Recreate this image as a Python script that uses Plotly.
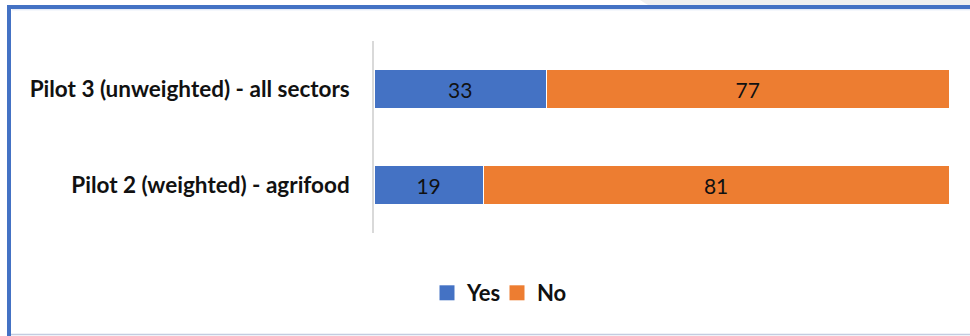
import plotly.graph_objects as go

categories = ["Pilot 2 (weighted) - agrifood", "Pilot 3 (unweighted) - all sectors"]
yes_values = [19, 33]
no_values = [81, 77]
series_names = ["Yes", "No"]
colors = ["#4472C4", "#ED7D31"]

W, H = 970, 336
L, R, T, B = 374, 21, 41, 103
pw, ph = W - L - R, H - T - B
FONT = "Lato, Open Sans, sans-serif"

def px(x):
    return (x - L) / pw

def py(y):
    return (H - B - y) / ph

fig = go.Figure()
for name, vals, col in zip(series_names, [yes_values, no_values], colors):
    fig.add_trace(go.Bar(
        y=categories, x=vals, name=name, orientation="h",
        marker=dict(color=col, line=dict(color="white", width=1)),
        text=[str(v) for v in vals], textposition="inside", insidetextanchor="middle",
        textfont=dict(family=FONT, size=21, color="#111111"),
        showlegend=False, hoverinfo="x+y",
    ))
    fig.add_trace(go.Scatter(
        x=[None], y=[None], mode="markers", name=name,
        marker=dict(symbol="square", size=15, color=col), showlegend=True,
    ))

fig.update_layout(
    width=W, height=H,
    margin=dict(l=L, r=R, t=T, b=B, pad=0),
    barmode="stack", barnorm="percent", bargap=0.6,
    plot_bgcolor="white", paper_bgcolor="white",
    font=dict(family=FONT, color="#000000"),
    uniformtext=dict(minsize=20, mode="show"),
    legend=dict(
        orientation="h", x=px(427), xanchor="left", y=py(293), yanchor="middle",
        font=dict(family=FONT, size=22, color="#111111", weight="bold"),
        entrywidth=25, entrywidthmode="pixels",
        itemsizing="trace", traceorder="normal", bgcolor="rgba(0,0,0,0)",
        borderwidth=0,
    ),
    xaxis=dict(range=[0, 100], visible=False, fixedrange=True),
    yaxis=dict(
        showline=True, linecolor="#D9D9D9", linewidth=1.5, showgrid=False, zeroline=False,
        ticks="", ticklabelstandoff=18,
        tickfont=dict(family=FONT, size=22.5, color="#111111", weight="bold"),
    ),
    shapes=[
        dict(type="path", xref="paper", yref="paper", layer="below",
             path=f"M{px(640)},{py(0)} L{px(970)},{py(0)} L{px(970)},{py(5)} L{px(648)},{py(5)} Z",
             fillcolor="#F0F0F0", line=dict(width=0)),
        dict(type="line", xref="paper", yref="paper",
             x0=px(7), x1=px(970), y0=py(7), y1=py(7),
             line=dict(color="#4472C4", width=4)),
        dict(type="line", xref="paper", yref="paper",
             x0=px(12), x1=px(970), y0=py(9.8), y1=py(9.8),
             line=dict(color="#DAE3F3", width=1)),
        dict(type="line", xref="paper", yref="paper",
             x0=px(9), x1=px(9), y0=py(5), y1=py(336),
             line=dict(color="#4472C4", width=4)),
        dict(type="line", xref="paper", yref="paper",
             x0=px(11), x1=px(970), y0=py(334.5), y1=py(334.5),
             line=dict(color="#C3CCE0", width=1.5)),
    ],
)

fig.write_html(
    "out.html",
    config={"displayModeBar": False},
    post_script="document.body.style.margin='0';document.body.style.overflow='hidden';",
)
